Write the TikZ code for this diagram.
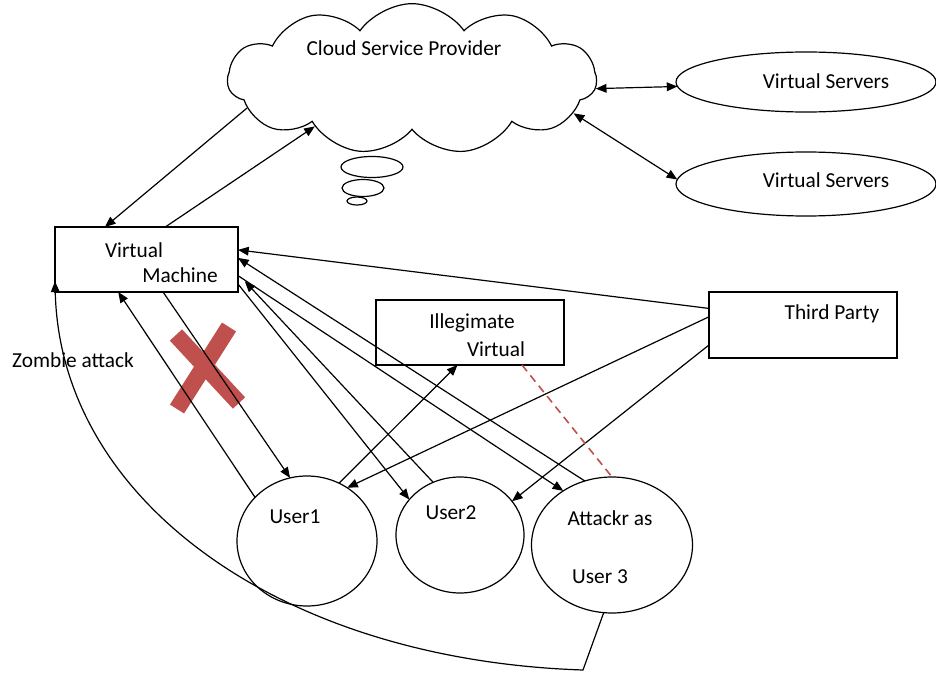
\documentclass[tikz,border=0pt]{standalone}
\usepackage{fontspec}
\setmainfont{Carlito}
\usetikzlibrary{arrows.meta}
\usetikzlibrary{shapes.geometric}
\usetikzlibrary{shapes.symbols}

\begin{document}
\begin{tikzpicture}[x=0.75pt,y=0.75pt,yscale=-1,xscale=1,
  line width=0.9pt,
  txt/.style={font=\fontsize{16}{19}\selectfont,inner sep=0pt},
  box/.style={draw,rectangle,inner sep=0pt,outer sep=0pt},
  oval/.style={draw,ellipse,inner sep=0pt,outer sep=0pt},
  arr/.style={-{Triangle[length=8pt,width=6.5pt]}},
  darr/.style={{Triangle[length=8pt,width=6.5pt]}-{Triangle[length=8pt,width=6.5pt]}}]
\path[use as bounding box] (0,0) rectangle (936,674);

%Shape: Cloud
\node[draw,cloud,cloud puffs=11,cloud puff arc=110,aspect=2.5,minimum width=276.75pt,minimum height=113pt,inner sep=0pt] (csp) at (412,79) {};
%Shape: Bubbles
\node[oval,minimum width=46.5pt,minimum height=15.75pt] (b1) at (372,167) {};
\node[oval,minimum width=31.5pt,minimum height=12.75pt] (b2) at (363,188) {};
\node[oval,minimum width=15pt,minimum height=6pt] (b3) at (357,201) {};
%Shape: Ellipses
\node[oval,minimum width=195pt,minimum height=45pt] (vs1) at (806,82) {};
\node[oval,minimum width=195pt,minimum height=48pt] (vs2) at (806,184) {};
%Shape: Rectangles
\node[box,minimum width=137.25pt,minimum height=48.75pt] (vm) at (146.5,259.5) {};
\node[box,minimum width=141pt,minimum height=48.75pt] (il) at (470,332.5) {};
\node[box,minimum width=141pt,minimum height=49.5pt] (tp) at (803,325) {};
%Shape: Circles
\node[oval,minimum width=105pt,minimum height=97.5pt] (u1) at (307,541) {};
\node[oval,minimum width=96pt,minimum height=87pt] (u2) at (460,535) {};
\node[oval,minimum width=120.75pt,minimum height=102pt] (att) at (612,545) {};

%Shape: Cross
\draw[line width=12.5pt,color={rgb,255:red,192;green,80;blue,77}] (176,335) -- (239,403) (229,327) -- (177,409);

%Straight Lines
\draw[arr] (csp.190) -- (vm.142.6);
\draw[arr] (vm.60) -- (csp.206);
\draw[darr] (csp.-3) -- (vs1.182);
\draw[darr] (csp.-12) -- (vs2.178);
\draw[arr] (u1.140) -- (vm.-131);
\draw[arr] (vm.-63) -- (u1.105);
\draw[arr] ([yshift=-6pt]vm.south east) -- (u2.145);
\draw[arr] (tp.170) -- (vm.6.5);
\draw[arr] (att.113) -- (vm.1);
\draw[arr,shorten >=7.5pt] (u2.117) -- (vm.-9.8);
\draw[arr] (vm.-10.9) -- (att.132.8);
\draw[arr] (u1.61.5) -- (il.249.7);
\draw[arr] (tp.175.7) -- (u1.53.4);
\draw[arr] (tp.192) -- (u2.33);
\draw[line width=1.2pt,dash pattern=on 6pt off 4pt,color={rgb,255:red,192;green,80;blue,77}] (il.-32) -- (att.90);
%Curve: zombie
\coordinate (zc) at (583,670);
\draw[arr] (att.-97.5) -- (zc) .. controls (280,660) and (60,500) .. ([yshift=-8pt]vm.south west);

% Text Node
\node[txt] (csptxt) at (404,48) {Cloud Service Provider};
\node[txt] (vs1txt) at (826,81) {Virtual Servers};
\node[txt] (vs2txt) at (826,180) {Virtual Servers};
\node[txt] (vmtxt1) at (134,250) {Virtual};
\node[txt] (vmtxt2) at (180,275) {Machine};
\node[txt] (iltxt1) at (472,323) {Illegimate};
\node[txt] (iltxt2) at (496,349) {Virtual};
\node[txt] (tptxt) at (832,314) {Third Party};
\node[txt] (u1txt) at (295,517) {User1};
\node[txt] (u2txt) at (451,513) {User2};
\node[txt] (atttxt1) at (610,518) {Attackr as};
\node[txt] (atttxt2) at (600,577) {User 3};
\node[txt] (zbtxt) at (73,360) {Zombie attack};

\end{tikzpicture}
\end{document}
